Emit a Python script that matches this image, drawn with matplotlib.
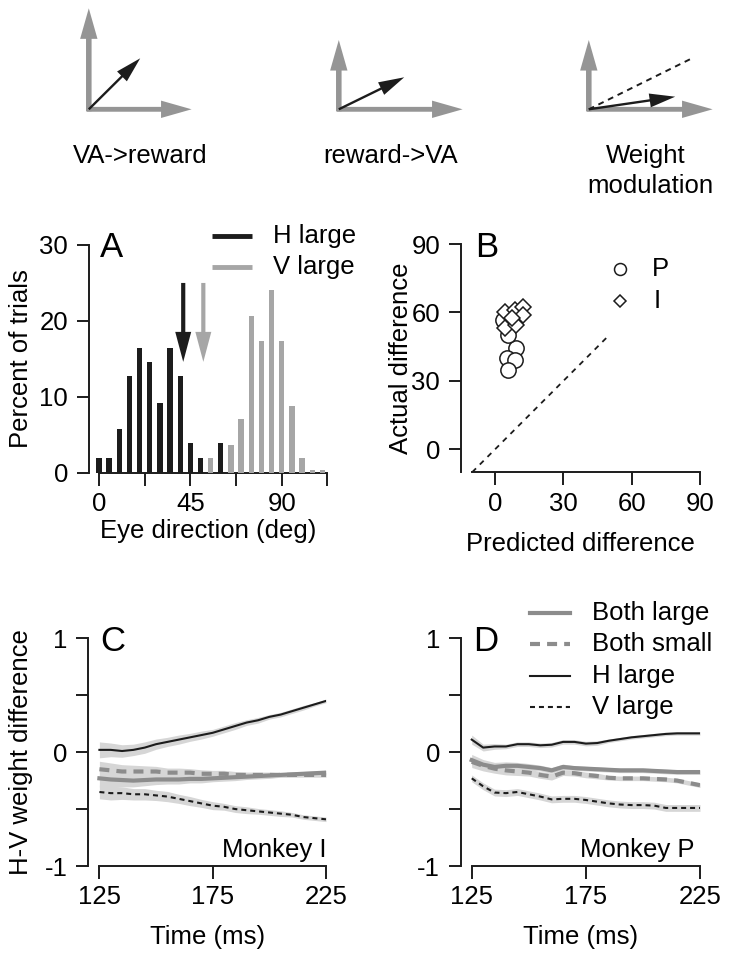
import matplotlib
matplotlib.use("Agg")
from matplotlib import pyplot as plt
from matplotlib.patches import FancyArrowPatch
import numpy as np

plt.rcParams['font.family'] = ['Liberation Sans', 'DejaVu Sans']
plt.rcParams['font.size'] = 18

BLACK = '#1c1c1c'
GRAY = '#a6a6a6'
LINE_GRAY = '#8c8c8c'
BAND = '#d6d6d6'
ICON_GRAY = '#959595'

# ---- panel A: histogram of eye direction ----
bins = [0, 5, 10, 15, 20, 25, 30, 35, 40, 45, 50, 55, 60, 65, 70, 75, 80, 85, 90, 95, 100, 105, 110]
h_large = [2, 2, 5.7, 12.8, 16.4, 14.6, 9.2, 16.4, 12.8, 3.9, 2, 0, 3.9, 0, 0, 0, 0, 0, 0, 0, 0, 0, 0]
v_large = [0, 0, 0, 0, 0, 0, 0, 0, 0, 0, 0, 2, 0, 3.7, 7.1, 20.6, 17.3, 24.1, 17.3, 8.8, 2, 0.3, 0.3]
mean_dir = [41.5, 51.4]     # H large, V large
arrow_top, arrow_tip = 25, 14.6

# ---- panel B: predicted vs actual difference ----
pred_P = [9.2, 5.1, 8.8, 5.8, 3.6, 5.7]
act_P = [44.3, 39.9, 39.2, 34.8, 56.7, 50.1]
pred_I = [4.4, 8.8, 12.4, 12.1, 4.4, 9.2, 7.5]
act_I = [60.4, 61.1, 62.5, 58.9, 53.1, 54.5, 57.6]

# ---- panels C, D: H-V weight difference over time ----
t = [125, 130, 135, 140, 145, 150, 155, 160, 165, 170, 175,
     180, 185, 190, 195, 200, 205, 210, 215, 220, 225]

C_h = [.02, .02, .01, .02, .04, .07, .09, .11, .13, .15, .17, .20, .23, .26, .28, .31, .33, .36, .39, .42, .45]
C_h_err = [.07, .06, .055, .05, .05, .045, .04, .04, .035, .035, .03, .03, .03, .025, .025, .02, .02, .02, .02, .015, .015]
C_bs = [-.15, -.16, -.17, -.17, -.17, -.17, -.18, -.18, -.18, -.19, -.19, -.19, -.2, -.2, -.2, -.2, -.2, -.2, -.2, -.2, -.2]
C_bs_err = [.07, .065, .06, .055, .05, .045, .04, .04, .035, .035, .03, .03, .03, .025, .025, .025, .02, .02, .02, .02, .02]
C_bl = [-.23, -.24, -.245, -.25, -.245, -.24, -.24, -.24, -.235, -.235, -.23, -.225, -.22, -.215, -.21, -.205, -.2, -.195, -.19, -.185, -.18]
C_bl_err = [.08, .07, .06, .055, .05, .045, .04, .04, .035, .035, .03, .03, .03, .025, .025, .025, .02, .02, .02, .02, .02]
C_v = [-.35, -.36, -.36, -.37, -.37, -.38, -.39, -.41, -.43, -.45, -.47, -.48, -.5, -.51, -.52, -.53, -.54, -.55, -.57, -.58, -.59]
C_v_err = [.06, .06, .055, .05, .05, .045, .045, .04, .04, .035, .035, .03, .03, .03, .025, .025, .025, .02, .02, .02, .02]

D_h = [.11, .04, .05, .05, .07, .07, .06, .065, .09, .09, .075, .08, .1, .115, .13, .14, .15, .16, .165, .165, .165]
D_h_err = [.04, .03, .025, .02, .02, .02, .02, .02, .02, .02, .02, .02, .015, .015, .015, .015, .015, .015, .015, .015, .015]
D_bl = [-.07, -.11, -.13, -.12, -.12, -.13, -.14, -.16, -.13, -.14, -.145, -.15, -.155, -.16, -.16, -.16, -.165, -.17, -.175, -.175, -.175]
D_bl_err = [.05, .045, .04, .035, .03, .03, .025, .025, .025, .02, .02, .02, .02, .02, .02, .02, .02, .02, .02, .02, .02]
D_bs = [-.085, -.12, -.145, -.16, -.17, -.18, -.2, -.215, -.18, -.185, -.2, -.21, -.225, -.23, -.23, -.23, -.235, -.24, -.25, -.27, -.29]
D_bs_err = [.05, .045, .04, .04, .035, .03, .03, .03, .025, .025, .025, .025, .02, .02, .02, .02, .02, .02, .02, .02, .02]
D_v = [-.23, -.3, -.355, -.36, -.35, -.37, -.39, -.415, -.41, -.41, -.42, -.435, -.45, -.46, -.465, -.465, -.47, -.49, -.49, -.49, -.49]
D_v_err = [.03, .03, .03, .03, .03, .03, .03, .03, .03, .03, .03, .03, .03, .03, .03, .03, .03, .03, .03, .03, .03]

W, H = 729, 960
fig = plt.figure(figsize=(W / 100, H / 100), dpi=100)


def px_axes(l, t_, r, b):
    return fig.add_axes([l / W, 1 - b / H, (r - l) / W, (b - t_) / H])


def style(ax):
    for s in ['top', 'right']:
        ax.spines[s].set_visible(False)
    for s in ['left', 'bottom']:
        ax.spines[s].set_linewidth(1.4)
        ax.spines[s].set_color(BLACK)
    ax.tick_params(length=9, width=1.4, color=BLACK, labelsize=18.5)
    ax.tick_params(axis='x', pad=5)
    ax.tick_params(axis='y', pad=6)
    ax.set_facecolor('none')


def arrow(ax, p0, p1, color, hl, hw, tw, transform=None):
    a = FancyArrowPatch(p0, p1, arrowstyle='simple,head_length=%g,head_width=%g,tail_width=%g' % (hl, hw, tw),
                        mutation_scale=1, color=color, lw=0, shrinkA=0, shrinkB=0,
                        transform=transform if transform is not None else ax.transData, clip_on=False)
    ax.add_patch(a)


# overlay in pixel coordinates for the schematic and legends
ov = fig.add_axes([0, 0, 1, 1])
ov.set_xlim(0, W)
ov.set_ylim(H, 0)
ov.axis('off')
ov.set_zorder(5)

# ---- schematic icons ----
icons = [
    # origin, y top, x right, black tip
    ((88.8, 109.3), 8.3, 191.6, (140.2, 58.3)),
    ((338.8, 109.3), 40, 462.6, (404.2, 77.3)),
    ((588.8, 109.3), 40, 712.6, (675.2, 96.7)),
]
for (ox, oy), ytop, xr, tip in icons:
    arrow(ov, (ox, oy + 2), (ox, ytop), ICON_GRAY, 22, 12.5, 4.0)
    arrow(ov, (ox - 2, oy), (xr, oy), ICON_GRAY, 22, 12.5, 3.5)
ov.plot([588.8, 694], [109.3, 57.3], ls=(0, (3, 2.5)), color=BLACK, lw=1.4)
for (ox, oy), ytop, xr, tip in icons:
    arrow(ov, (ox, oy), tip, BLACK, 18.5, 10, 1.7)
ov.text(140, 163, 'VA->reward', ha='center', va='baseline', fontsize=18.5)
ov.text(391, 163, 'reward->VA', ha='center', va='baseline', fontsize=18.5)
ov.text(646, 163, 'Weight', ha='center', va='baseline', fontsize=18.5)
ov.text(650, 193, 'modulation', ha='center', va='baseline', fontsize=18.5)

# ---- panel A ----
axA = px_axes(89, 245, 327.4, 472.7)
style(axA)
axA.bar(bins, h_large, width=2.6, color=BLACK, zorder=3)
axA.bar(bins, v_large, width=2.6, color=GRAY, zorder=3)
for x, c in zip(mean_dir, [BLACK, GRAY]):
    arrow(axA, (x, arrow_top), (x, arrow_tip), c, 21.6, 11.5, 3.0)
axA.set_xlim(-4.9, 112.5)
axA.set_ylim(0, 30)
axA.spines['bottom'].set_bounds(0, 112.5)
axA.spines['left'].set_bounds(0, 30)
axA.set_xticks(np.arange(0, 113, 22.5))
axA.set_xticklabels(['0', '', '45', '', '90', ''])
axA.set_yticks([0, 10, 20, 30])
axA.set_xlabel('Eye direction (deg)', labelpad=2, fontsize=18.5)
axA.set_ylabel('Percent of trials', fontsize=18.5)
axA.yaxis.set_label_coords(-0.235, 0.5)
axA.text(0.046, 0.947, 'A', transform=axA.transAxes, fontsize=25, va='baseline')
ov.plot([212, 252], [236, 236], color=BLACK, lw=3.5, solid_capstyle='butt')
ov.plot([212, 252], [267, 267], color=GRAY, lw=3.5, solid_capstyle='butt')
ov.text(273, 236, 'H large', va='center', fontsize=18.5)
ov.text(273, 267, 'V large', va='center', fontsize=18.5)

# ---- panel B ----
axB = px_axes(461, 244, 700.2, 472.2)
style(axB)
axB.plot([-10, 50], [-10, 50], ls=(0, (3, 3)), color=BLACK, lw=1.3)
axB.plot(pred_P, act_P, 'o', ms=11, mfc='white', mec=BLACK, mew=1.1, clip_on=False)
axB.plot(pred_I, act_I, 'D', ms=8, mfc='white', mec=BLACK, mew=1.1, clip_on=False)
axB.set_xlim(-14.9, 90)
axB.set_ylim(-10, 90)
axB.spines['bottom'].set_bounds(-10, 90)
axB.spines['left'].set_bounds(-10, 90)
axB.set_xticks([0, 30, 60, 90])
axB.set_yticks([0, 30, 60, 90])
axB.set_xlabel('Predicted difference', labelpad=12, fontsize=18.5)
axB.set_ylabel('Actual difference', fontsize=18.5)
axB.yaxis.set_label_coords(-0.2, 0.5)
axB.text(0.059, 0.942, 'B', transform=axB.transAxes, fontsize=25, va='baseline')
ov.plot([620], [269.3], 'o', ms=8.6, mfc='white', mec=BLACK, mew=1.1)
ov.plot([620], [300.7], 'D', ms=5.8, mfc='white', mec=BLACK, mew=1.1)
ov.text(652, 269.3, 'P', va='center', fontsize=18.5)
ov.text(654, 300.7, 'I', va='center', fontsize=18.5)


# ---- panels C, D ----
def weight_panel(ax, series, letter, monkey):
    style(ax)
    for y, e, c, lw, ls in series:
        y = np.array(y)
        e = np.array(e)
        ax.fill_between(t, y - e, y + e, color=BAND, lw=0, zorder=1)
    for y, e, c, lw, ls in series:
        ax.plot(t, y, color=c, lw=lw, ls=ls, zorder=3)
    ax.set_ylim(-1, 1)
    ax.spines['bottom'].set_bounds(125, 225)
    ax.spines['left'].set_bounds(-1, 1)
    ax.set_xticks([125, 175, 225])
    ax.set_yticks([-1, -0.5, 0, 0.5, 1])
    ax.set_yticklabels(['-1', '', '0', '', '1'])
    ax.set_xlabel('Time (ms)', labelpad=11, fontsize=18.5)
    ax.text(0.05, 0.944, letter, transform=ax.transAxes, fontsize=25, va='baseline')
    ax.text(monkey[1], -0.92, monkey[0], ha='right', va='baseline', fontsize=18.5)


dash_gray = (0, (2.4, 1.7))
dash_black = (0, (2.4, 1.9))

axC = px_axes(88.3, 638.3, 326, 866)
weight_panel(axC, [
    (C_bl, C_bl_err, LINE_GRAY, 3.0, '-'),
    (C_bs, C_bs_err, LINE_GRAY, 3.0, dash_gray),
    (C_h, C_h_err, BLACK, 1.5, '-'),
    (C_v, C_v_err, BLACK, 1.5, dash_black),
], 'C', ('Monkey I', 225))
axC.set_xlim(120.1, 225)
axC.set_ylabel('H-V weight difference', fontsize=18.5)
axC.yaxis.set_label_coords(-0.233, 0.5)

axD = px_axes(461, 638.3, 700, 866)
weight_panel(axD, [
    (D_bl, D_bl_err, LINE_GRAY, 3.0, '-'),
    (D_bs, D_bs_err, LINE_GRAY, 3.0, dash_gray),
    (D_h, D_h_err, BLACK, 1.5, '-'),
    (D_v, D_v_err, BLACK, 1.5, dash_black),
], 'D', ('Monkey P', 222.8))
axD.set_xlim(120.3, 225)

leg_rows = [(613.3, 'Both large', LINE_GRAY, 3.0, '-'),
            (644, 'Both small', LINE_GRAY, 3.0, dash_gray),
            (675.7, 'H large', BLACK, 1.5, '-'),
            (706.7, 'V large', BLACK, 1.5, dash_black)]
for y, lab, c, lw, ls in leg_rows:
    ov.plot([530, 570], [y, y], color=c, lw=lw, ls=ls)
    ov.text(591.7, y, lab, va='center', fontsize=18.5)

fig.savefig('out.png', dpi=100)
